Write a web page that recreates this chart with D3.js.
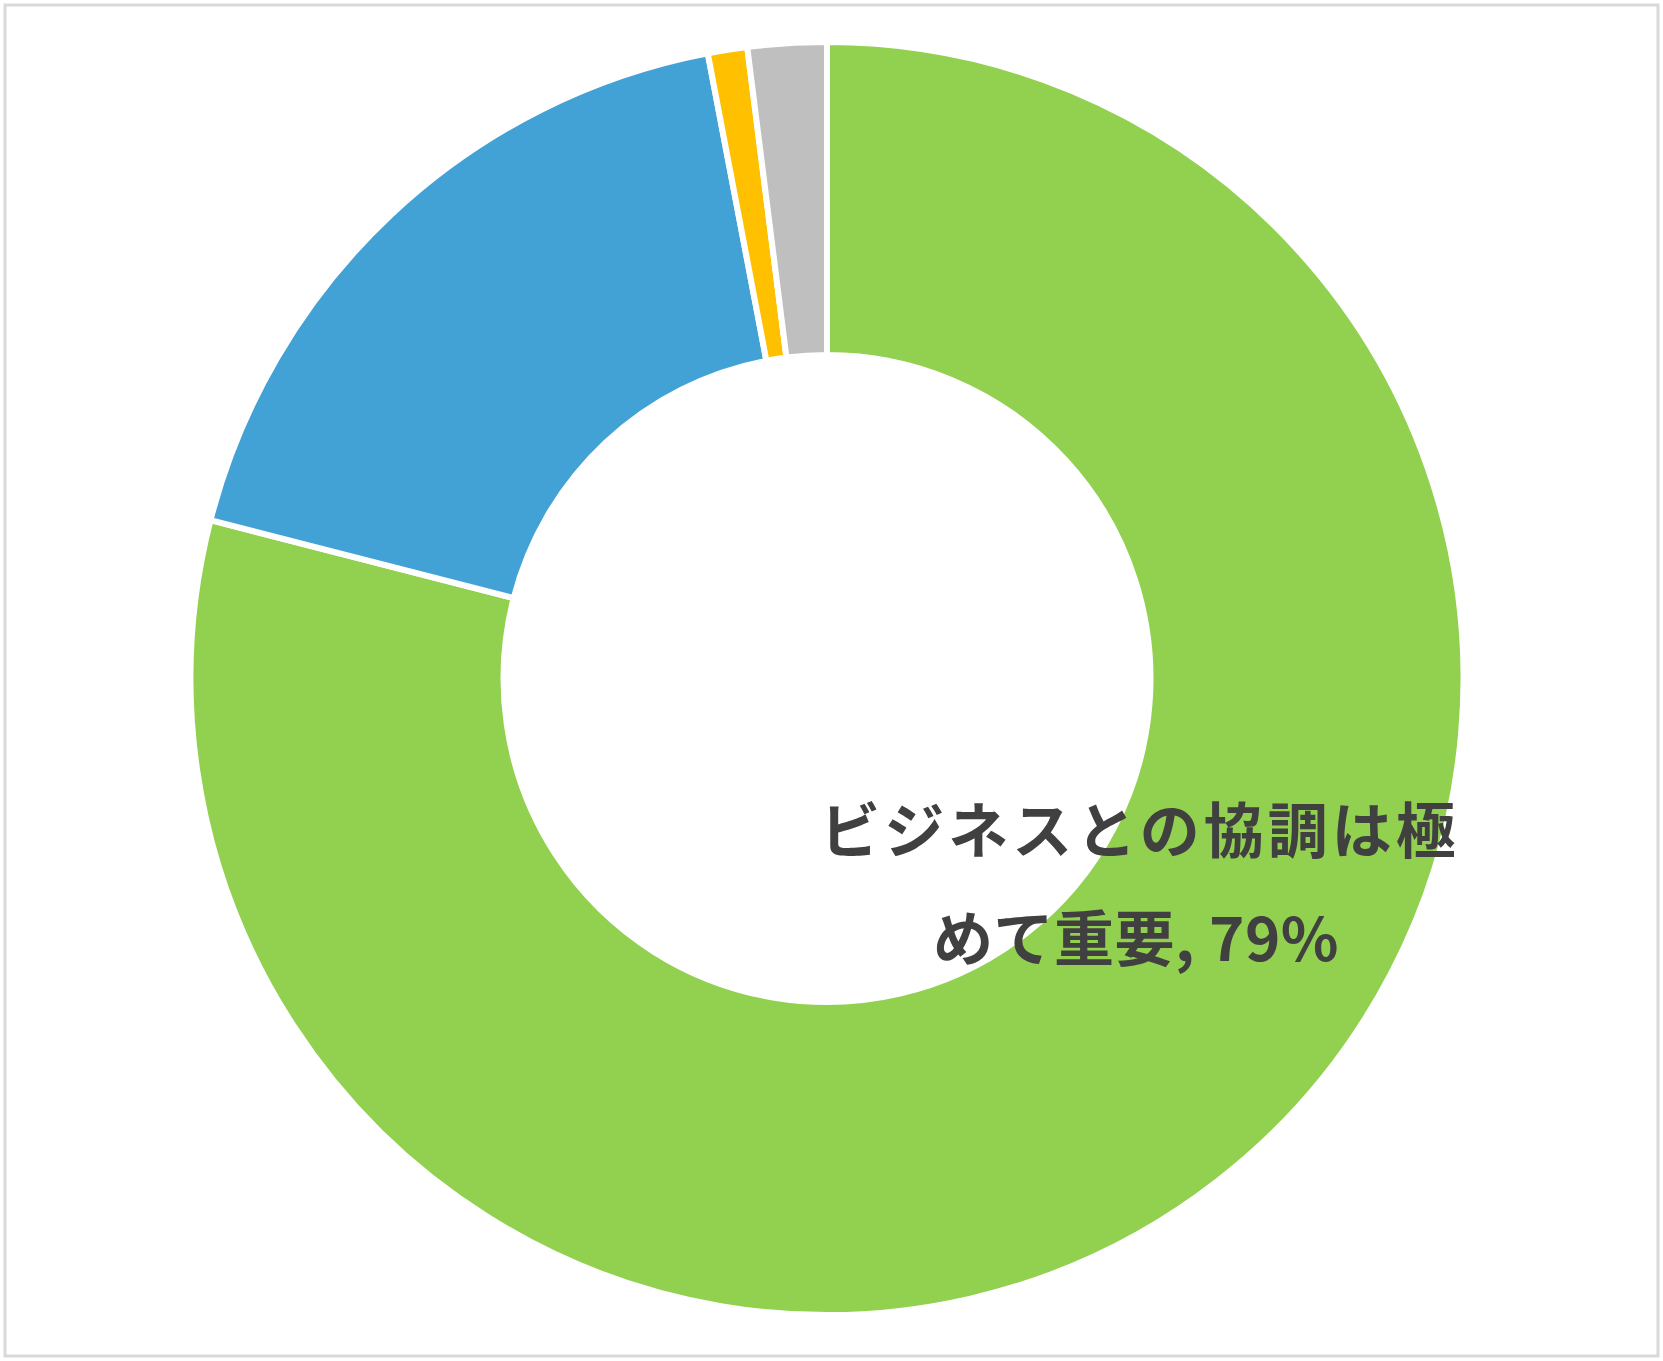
<!DOCTYPE html>
<html>
<head>
<meta charset="utf-8">
<script src="https://cdn.jsdelivr.net/npm/d3@7"></script>
<style>
  html, body { margin: 0; padding: 0; background: #fff; }
  svg { display: block; }
</style>
</head>
<body>
<svg id="chart"></svg>
<script>
// data
const categories = ["ビジネスとの協調は極めて重要", "重要", "あまり重要ではない", "わからない"];
const values = [79, 18, 1, 2];
const colors = ["#92D050", "#42A2D6", "#FFC000", "#BFBFBF"];
const labelLines = ["ビジネスとの協調は極", "めて重要, 79%"];

const W = 1663, H = 1361;
const cx = 827, cy = 678.5;
const outerR = 636.5, innerR = 323.5;

const svg = d3.select("#chart")
    .attr("width", W)
    .attr("height", H);

// frame
svg.append("rect")
    .attr("x", 5).attr("y", 5)
    .attr("width", W - 10).attr("height", H - 10)
    .attr("fill", "#fff")
    .attr("stroke", "#d9d9d9")
    .attr("stroke-width", 3);

const pie = d3.pie().sort(null).value(d => d);
const arc = d3.arc().innerRadius(innerR).outerRadius(outerR);

const g = svg.append("g").attr("transform", `translate(${cx},${cy})`);

g.selectAll("path")
    .data(pie(values))
    .join("path")
        .attr("d", arc)
        .attr("fill", (d, i) => colors[i])
        .attr("stroke", "#fff")
        .attr("stroke-width", 6)
        .attr("stroke-linejoin", "miter");

// only the largest slice carries a label
const label = g.append("text")
    .attr("font-family", "'Noto Sans CJK JP', 'Noto Sans', sans-serif")
    .attr("font-weight", "bold")
    .attr("font-size", 60)
    .attr("fill", "#404040")
    .attr("text-anchor", "middle");

label.selectAll("tspan")
    .data(labelLines)
    .join("tspan")
        .attr("x", (d, i) => i === 0 ? 313 : 309)
        .attr("y", (d, i) => 174 + i * 108)
        .attr("letter-spacing", (d, i) => i === 0 ? 4 : 0.5)
        .text(d => d);
</script>
</body>
</html>
